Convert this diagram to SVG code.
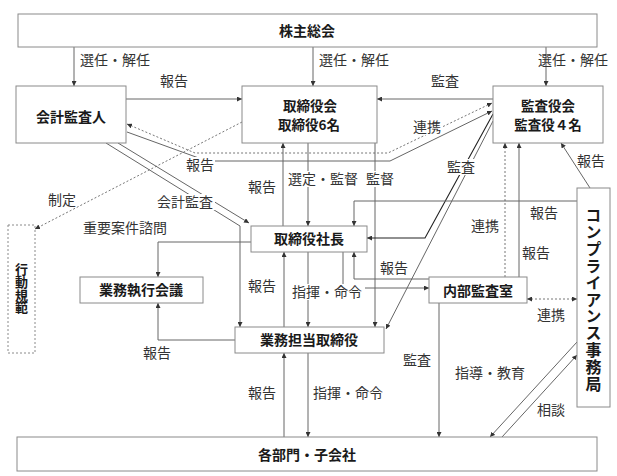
<svg xmlns="http://www.w3.org/2000/svg" width="617" height="476" viewBox="0 0 617 476">
<style>
.box{fill:#fff;stroke:#8a8a8a;stroke-width:1}
.dbox{fill:#fff;stroke:#8a8a8a;stroke-width:1;stroke-dasharray:2,2}
.nt{font-family:"Noto Sans CJK JP",sans-serif;font-weight:bold;font-size:14px;fill:#1a1a1a;text-anchor:middle}
.n2{font-size:13.5px}
.vt{font-family:"Noto Sans CJK JP",sans-serif;font-weight:bold;fill:#1a1a1a;writing-mode:vertical-rl;text-orientation:upright}
.lb{font-family:"Noto Sans CJK JP",sans-serif;font-size:14px;fill:#333;text-anchor:middle}
.ln{fill:none;stroke:#666;stroke-width:1}
.dk{fill:none;stroke:#222;stroke-width:1.1}
.dt{fill:none;stroke:#777;stroke-width:1;stroke-dasharray:2,2}
.bg{fill:#fff}
</style>
<defs>
<marker id="a" viewBox="0 0 6 6" refX="6" refY="3" markerWidth="5" markerHeight="5" orient="auto-start-reverse" markerUnits="userSpaceOnUse"><path d="M0,0 L6,3 L0,6 z" fill="#333"/></marker>
</defs>
<rect width="617" height="476" fill="#fff"/>

<g id="connectors">
<path class="ln" d="M74,47 V86" marker-end="url(#a)"/>
<path class="ln" d="M313,47 V86" marker-end="url(#a)"/>
<path class="ln" d="M546,47 V86" marker-end="url(#a)"/>
<path class="ln" d="M126,99 H242" marker-end="url(#a)"/>
<path class="ln" d="M493,99 H377" marker-end="url(#a)"/>
<path class="dt" d="M127,124 L195,153 H388 L492,103" marker-start="url(#a)" marker-end="url(#a)"/>
<path class="ln" d="M127,132 L207,161 H390 L492,111" marker-end="url(#a)"/>
<path class="dt" d="M242,122 L35,229" marker-end="url(#a)"/>
<path class="ln" d="M106,143 L240,226 V327" marker-end="url(#a)"/>
<path class="ln" d="M118,143 L249,223" marker-end="url(#a)"/>
<path class="ln" d="M283,226 V143" marker-end="url(#a)"/>
<path class="ln" d="M308,143 V226" marker-end="url(#a)"/>
<path class="ln" d="M375,143 V327" marker-end="url(#a)"/>
<path class="dk" d="M493,114 L425,238 H367" marker-end="url(#a)"/>
<path class="ln" d="M493,121 L386,329" marker-end="url(#a)"/>
<path class="dt" d="M505,277 V143" marker-end="url(#a)"/>
<path class="ln" d="M519,277 V143" marker-end="url(#a)"/>
<path class="ln" d="M590,188 L561,143" marker-end="url(#a)"/>
<path class="ln" d="M577,201 H354 V226" marker-end="url(#a)"/>
<path class="ln" d="M429,279 H354 V252" marker-end="url(#a)"/>
<path class="ln" d="M343,252 V288 H429" marker-end="url(#a)"/>
<path class="ln" d="M284,327 V252" marker-end="url(#a)"/>
<path class="ln" d="M308,252 V327" marker-end="url(#a)"/>
<path class="ln" d="M251,242 H158 V277" marker-end="url(#a)"/>
<path class="ln" d="M235,340 H158 V303" marker-end="url(#a)"/>
<path class="ln" d="M284,437 V353" marker-end="url(#a)"/>
<path class="ln" d="M308,353 V437" marker-end="url(#a)"/>
<path class="ln" d="M439,303 V437" marker-end="url(#a)"/>
<path class="ln" d="M577,342 L490,437" marker-end="url(#a)"/>
<path class="ln" d="M502,437 L577,355" marker-end="url(#a)"/>
<path class="dt" d="M527,299 H577" marker-start="url(#a)" marker-end="url(#a)"/>

<rect class="bg" x="186" y="157" width="29" height="16"/>
<rect class="bg" x="411" y="119" width="31" height="16"/>
<rect class="bg" x="446" y="159" width="31" height="16"/>
<rect class="bg" x="285" y="171" width="76" height="16"/>
<rect class="bg" x="365" y="171" width="31" height="16"/>
<rect class="bg" x="156" y="194" width="59" height="16"/>
<rect class="bg" x="290" y="284" width="75" height="16"/>

<text class="lb" x="115" y="65">選任・解任</text>
<text class="lb" x="354" y="65">選任・解任</text>
<text class="lb" x="573" y="65">選任・解任</text>
<text class="lb" x="174" y="86">報告</text>
<text class="lb" x="445" y="86">監査</text>
<text class="lb" x="427" y="132">連携</text>
<text class="lb" x="200" y="170">報告</text>
<text class="lb" x="262" y="192">報告</text>
<text class="lb" x="323" y="184">選定・監督</text>
<text class="lb" x="380" y="184">監督</text>
<text class="lb" x="461" y="172">監査</text>
<text class="lb" x="591" y="166">報告</text>
<text class="lb" x="62" y="205">制定</text>
<text class="lb" x="185" y="207">会計監査</text>
<text class="lb" x="125" y="233">重要案件諮問</text>
<text class="lb" x="485" y="231">連携</text>
<text class="lb" x="544" y="218">報告</text>
<text class="lb" x="536" y="258">報告</text>
<text class="lb" x="394" y="273">報告</text>
<text class="lb" x="262" y="291">報告</text>
<text class="lb" x="327" y="297">指揮・命令</text>
<text class="lb" x="157" y="358">報告</text>
<text class="lb" x="262" y="398">報告</text>
<text class="lb" x="348" y="398">指揮・命令</text>
<text class="lb" x="417" y="365">監査</text>
<text class="lb" x="490" y="378">指導・教育</text>
<text class="lb" x="551" y="415">相談</text>
<text class="lb" x="551" y="320">連携</text>
</g>

<g id="shareholders">
<rect class="box" x="18" y="14" width="579" height="33"/>
<text class="nt" x="307" y="36">株主総会</text>
</g>
<g id="auditor">
<rect class="box" x="16" y="86" width="110" height="57"/>
<text class="nt" x="71" y="122">会計監査人</text>
</g>
<g id="board">
<rect class="box" x="242" y="86" width="135" height="57"/>
<text class="nt n2" x="310" y="110.5">取締役会</text>
<text class="nt n2" x="309" y="130">取締役6名</text>
</g>
<g id="kansayakukai">
<rect class="box" x="493" y="86" width="110" height="57"/>
<text class="nt n2" x="548" y="110.5">監査役会</text>
<text class="nt n2" x="548" y="130">監査役４名</text>
</g>
<g id="code">
<rect class="dbox" x="8" y="225" width="27" height="128"/>
<text class="vt" x="21.5" y="263" style="font-size:13px;letter-spacing:-0.4px">行動規範</text>
</g>
<g id="president">
<rect class="box" x="251" y="226" width="116" height="26"/>
<text class="nt" x="309" y="244">取締役社長</text>
</g>
<g id="exec-meeting">
<rect class="box" x="80" y="277" width="123" height="26"/>
<text class="nt" x="141" y="295">業務執行会議</text>
</g>
<g id="exec-director">
<rect class="box" x="235" y="327" width="149" height="26"/>
<text class="nt" x="309" y="345">業務担当取締役</text>
</g>
<g id="internal-audit">
<rect class="box" x="429" y="277" width="98" height="26"/>
<text class="nt" x="478" y="296">内部監査室</text>
</g>
<g id="compliance">
<rect class="box" x="577" y="188" width="33" height="219"/>
<text class="vt" x="593.5" y="207" style="font-size:16px;letter-spacing:0.9px">コンプライアンス事務局</text>
</g>
<g id="departments">
<rect class="box" x="17" y="437" width="580" height="34"/>
<text class="nt" x="307" y="460">各部門・子会社</text>
</g>
</svg>
